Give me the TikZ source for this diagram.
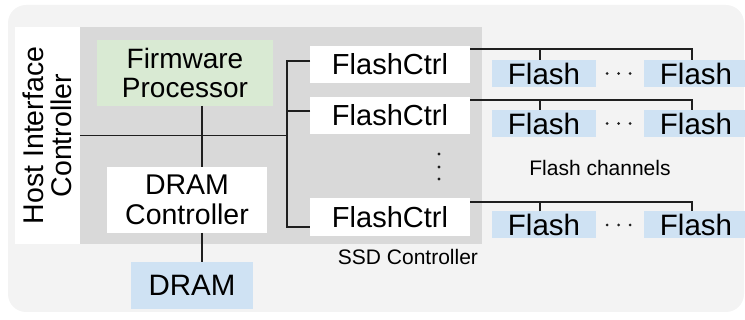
\documentclass[tikz,border=0pt]{standalone}
\usepackage{fontspec}
\setmainfont{Liberation Sans}
\usetikzlibrary{calc}
\definecolor{panel}{HTML}{F3F3F3}
\definecolor{ctrlgray}{HTML}{D9D9D9}
\definecolor{fwgreen}{HTML}{D9EAD3}
\definecolor{memblue}{HTML}{CFE2F3}
\definecolor{wirecol}{HTML}{1F1F1F}

\begin{document}
\begin{tikzpicture}[x=1pt,y=-1pt,
  box/.style={inner sep=0pt, outer sep=0pt, align=center,
              font=\fontsize{29}{30}\selectfont},
  ctrlbox/.style={box, fill=white, minimum width=160pt, minimum height=37pt},
  membox/.style={box, fill=memblue, minimum width=104pt, minimum height=27pt,
                 font=\fontsize{29.5}{30}\selectfont},
  wire/.style={draw=wirecol, line width=1.6pt},
  caption/.style={inner sep=0pt, font=\fontsize{21}{22}\selectfont},
  dotmark/.style={fill=wirecol}]

\useasboundingbox (0,0) rectangle (745,320);

% background panel
\fill[panel, rounded corners=18pt] (8,5) rectangle (744,312);

% host interface and SSD controller blocks
\node[box, fill=white, minimum width=65pt, minimum height=217pt] (host) at (47.5,135.5) {};
\node[box, rotate=90, font=\fontsize{28.5}{28}\selectfont] (hostlabel) at (host.center) {Host Interface\\Controller};
\node[box, fill=ctrlgray, minimum width=402pt, minimum height=217pt] (ssd) at (281,135.5) {};

\node[box, fill=fwgreen, minimum width=176pt, minimum height=66pt,
      font=\fontsize{28}{29}\selectfont] (fw) at (185,73) {Firmware\\Processor};
\node[box, fill=white, minimum width=160pt, minimum height=66pt,
      font=\fontsize{28.5}{30}\selectfont] (dc) at (187,200) {DRAM\\Controller};
\node[box, fill=memblue, minimum width=122pt, minimum height=47pt,
      font=\fontsize{29.5}{30}\selectfont] (dram) at (192,285.5) {DRAM};

% flash controllers
\node[ctrlbox] (fc1) at (390,64.5) {FlashCtrl};
\node[ctrlbox] (fc2) at (390,115.5) {FlashCtrl};
\node[ctrlbox, minimum height=38pt] (fc3) at (390,217) {FlashCtrl};

% flash chips
\node[membox] (f11) at (544,73.5) {Flash};
\node[membox] (f12) at (696,73.5) {Flash};
\node[membox] (f21) at (544,123.5) {Flash};
\node[membox] (f22) at (696,123.5) {Flash};
\node[membox] (f31) at (544,225) {Flash};
\node[membox] (f32) at (696,225) {Flash};

% captions
\node[caption] (ssdcap) at (408,257) {SSD Controller};
\node[caption] (chcap) at (600,168) {Flash channels};

% internal bus
\coordinate (trunk) at (287,135.5);
\coordinate (vx) at (202,0);
\draw[wire] (host.east) -- (trunk);
\draw[wire] ($(fc1.west)+(0,-3.5)$) -| (trunk) |- ($(fc3.west)+(0,10)$);
\draw[wire] ($(fc2.west)+(0,-4.5)$) -- ++(-23,0);
\draw[wire] (fw.south -| vx) -- (dc.north -| vx);
\draw[wire] (dc.south -| vx) -- (dram.north -| vx);

% flash channels
\draw[wire] ($(fc1.north east)+(0,3)$) -| ($(f12.north)+(-4,0)$);
\draw[wire] ($(f11.north)+(-4,0)$) -- ++(0,-11);
\draw[wire] ($(fc2.north east)+(0,3)$) -| ($(f22.north)+(-4,0)$);
\draw[wire] ($(f21.north)+(-4,0)$) -- ++(0,-10);
\draw[wire] ($(fc3.north east)+(0,4)$) -| ($(f32.north)+(-4,0)$);
\draw[wire] ($(f31.north)+(-4,0)$) -- ++(0,-10);

% ellipses between chips and between controllers
\foreach \y in {73.5,123.5,225} {
  \foreach \x in {607,618.5,630} \fill[dotmark] (\x,\y) circle (1.5pt);
}
\foreach \y in {154,167,179} \fill[dotmark] (439,\y) circle (1.6pt);

\end{tikzpicture}
\end{document}
